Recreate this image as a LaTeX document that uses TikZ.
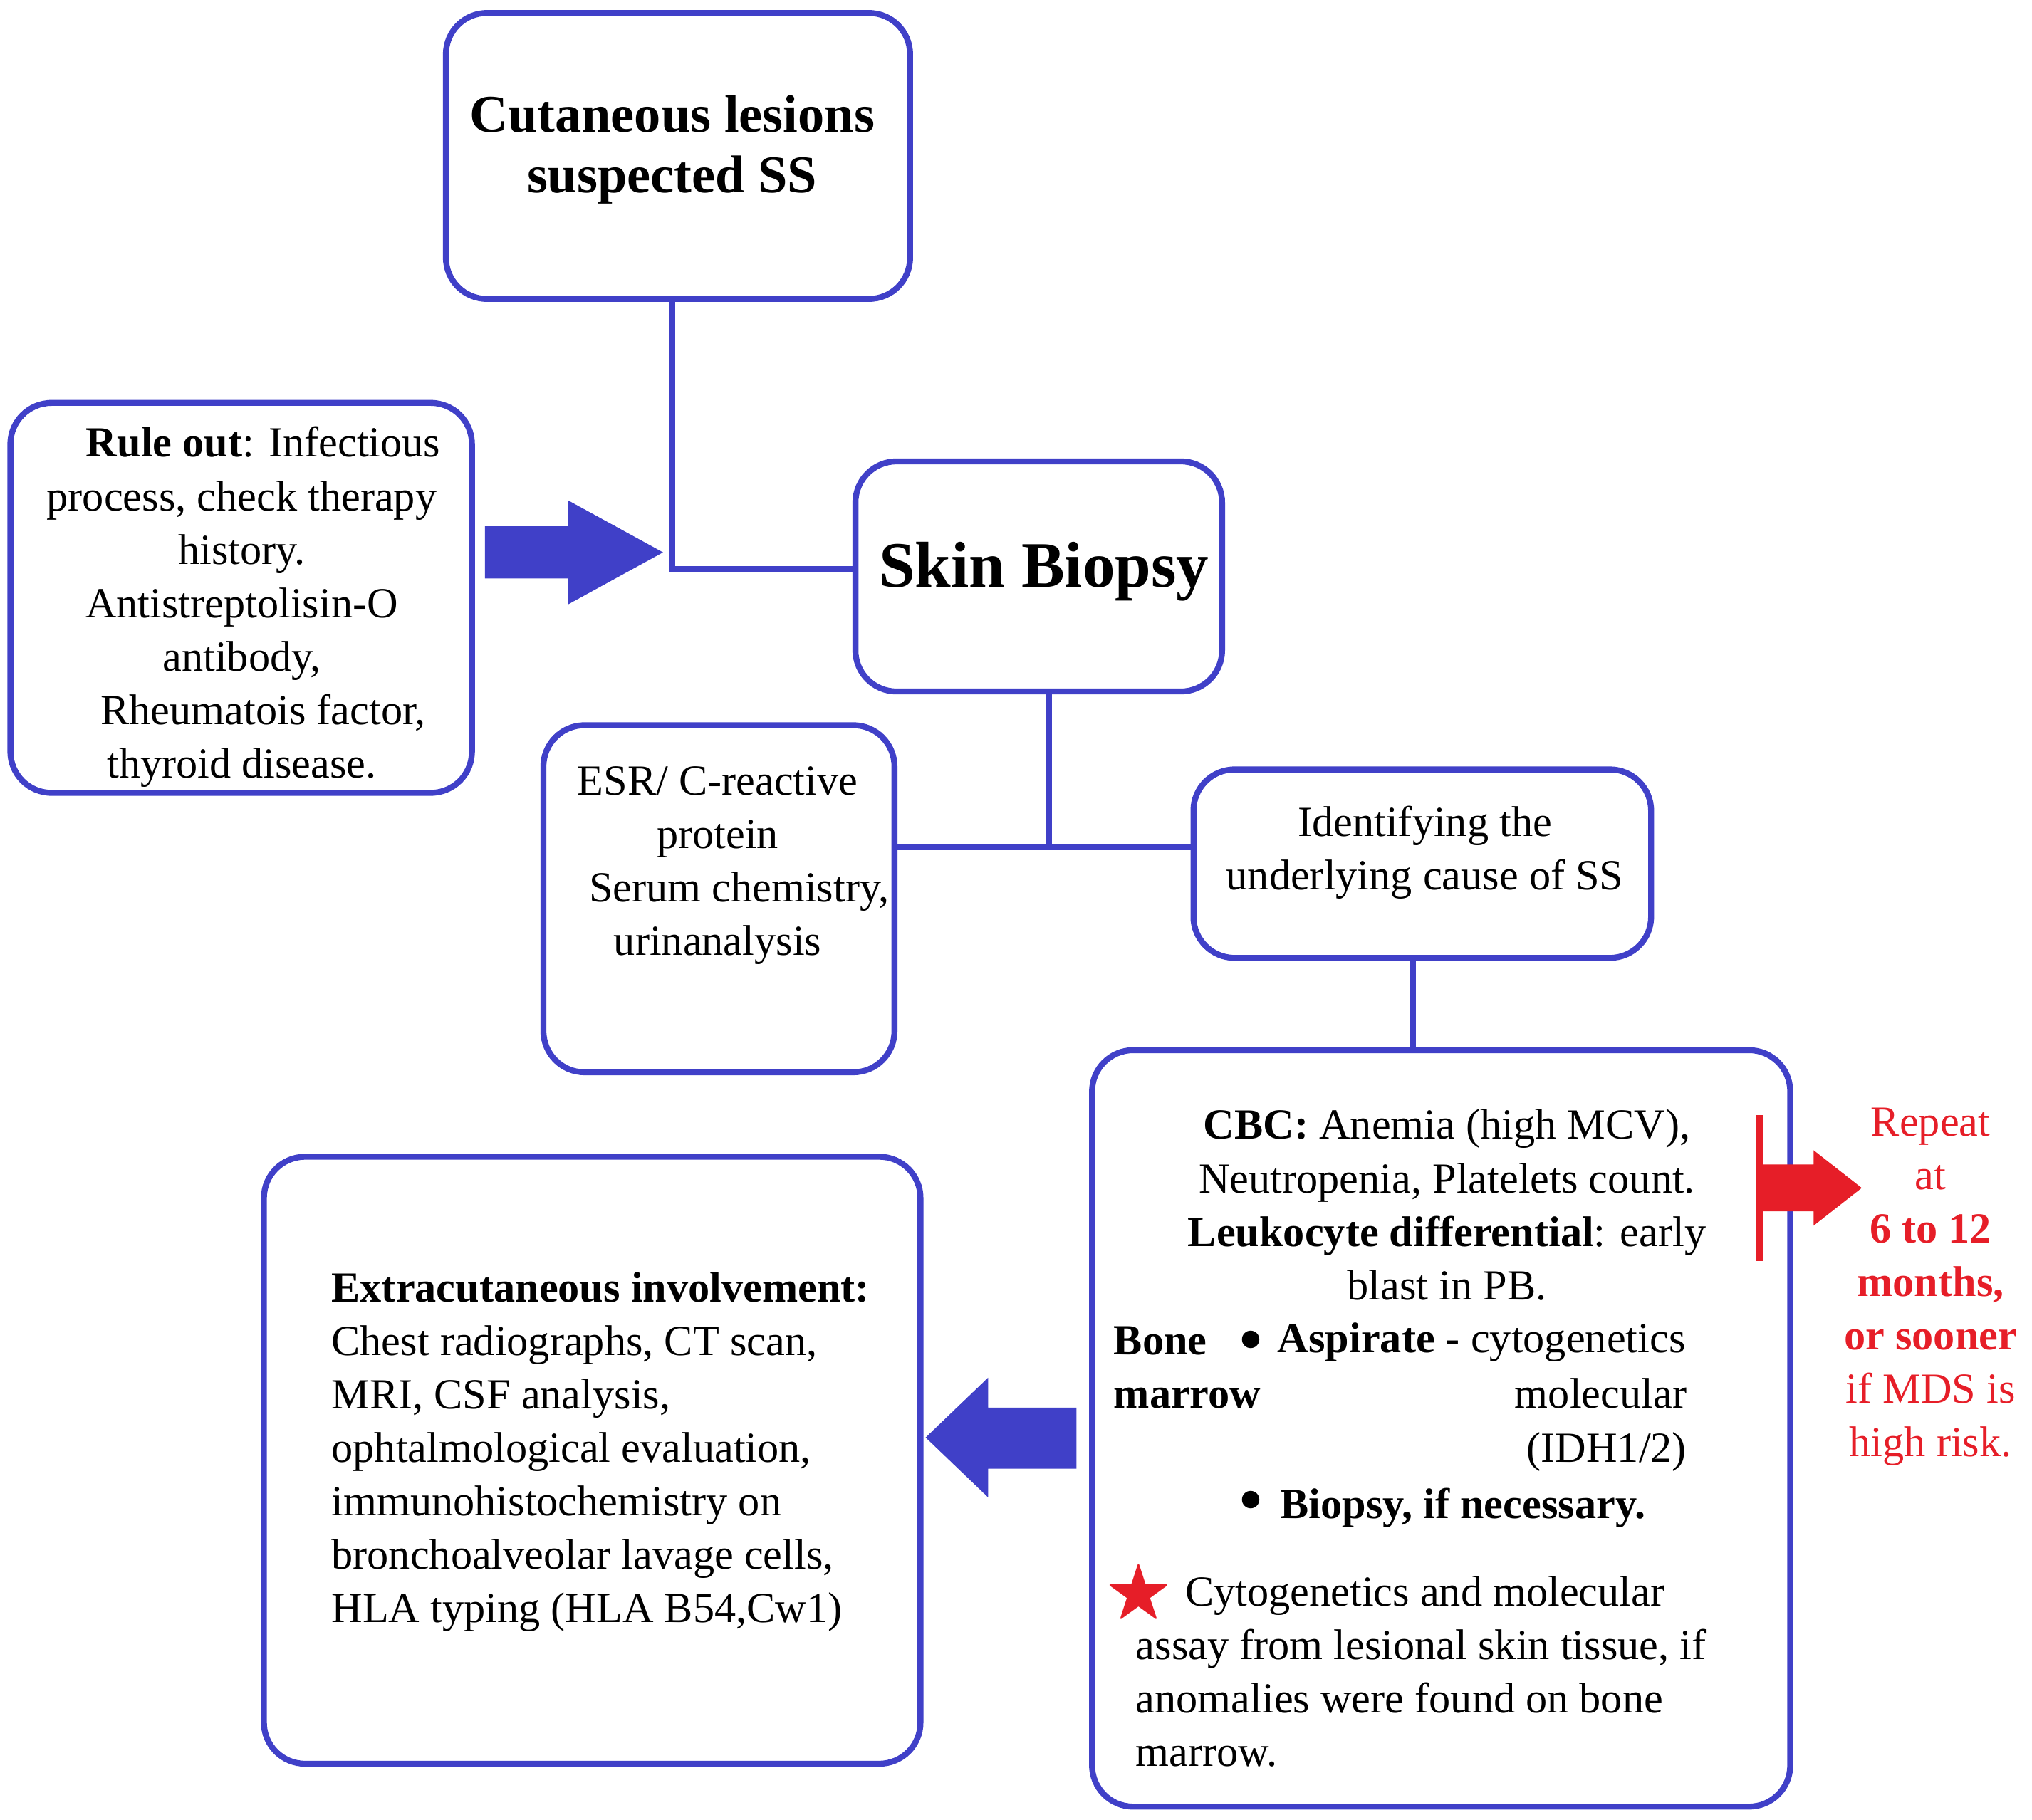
\documentclass[tikz,border=0pt]{standalone}
\usepackage{amssymb}
\usepackage{fontspec}
\setmainfont{Liberation Serif}
\usetikzlibrary{positioning}
\definecolor{boxblue}{RGB}{64,64,200}
\definecolor{repred}{RGB}{230,30,40}
\tikzset{
  box/.style={draw=boxblue, line width=1.3pt, rounded corners=9pt},
  link/.style={draw=boxblue, line width=1.3pt},
  txt/.style={align=center, font=\fontsize{9.4}{11.7}\selectfont, inner sep=0pt},
  bigarrow/.style={fill=boxblue, draw=none},
}
\begin{document}
\begin{tikzpicture}[x=0.1mm,y=-0.1mm]
  \useasboundingbox (0,0) rectangle (1563,1400);
  % boxes
  \draw[box] (343,10) rectangle (700,230);
  \draw[box] (8,310) rectangle (363,610);
  \draw[box] (658,355) rectangle (940,532);
  \draw[box] (418,558) rectangle (688,825);
  \draw[box] (918,592) rectangle (1270,737);
  \draw[box] (840,808) rectangle (1377,1390);
  \draw[box] (203,890) rectangle (708,1357);
  % texts
  \node[txt, font=\fontsize{11.6}{13.2}\selectfont\bfseries] (lesion) at (517,115) {Cutaneous lesions\\suspected SS};
  \node[txt] (ruleout) at (186,467) {\hspace*{1em}\textbf{Rule out}: Infectious\\process, check therapy\\history.\\Antistreptolisin-O\\antibody,\\\hspace*{1em}Rheumatois factor,\\thyroid disease.};
  \node[txt, font=\fontsize{14.2}{17}\selectfont\bfseries] (biopsy) at (803,440) {Skin Biopsy};
  \node[txt] (esr) at (552,666) {ESR/ C-reactive\\protein\\\hspace*{1em}Serum chemistry,\\urinanalysis};
  \node[txt] (cause) at (1096,656) {Identifying the\\underlying cause of SS};
  \node[txt, align=left] (extra) at (462,1117) {\textbf{Extracutaneous involvement:}\\Chest radiographs, CT scan,\\MRI, CSF analysis,\\ophtalmological evaluation,\\immunohistochemistry on\\bronchoalveolar lavage cells,\\HLA typing (HLA B54,Cw1)};
  \node[txt] (cbc) at (1113,927) {\textbf{CBC:} Anemia (high MCV),\\Neutropenia, Platelets count.\\\textbf{Leukocyte differential}: early\\blast in PB.};
  \node[txt, align=left, anchor=north west] (bone) at (856,1020) {\textbf{Bone}\\\textbf{marrow}};
  \node[txt, font=\fontsize{16}{16}\selectfont] (dot1) at (962,1037) {\textbullet};
  \node[txt, anchor=west] (aspirate) at (982,1033) {\textbf{Aspirate} - cytogenetics};
  \node[txt, align=right, anchor=north east] (molec) at (1298,1060) {molecular\\(IDH1/2)};
  \node[txt, font=\fontsize{16}{16}\selectfont] (dot2) at (962,1160) {\textbullet};
  \node[txt, anchor=west] (bmbiop) at (984,1160) {\textbf{Biopsy, if necessary.}};
  \node[txt, text=repred, font=\fontsize{15}{16}\selectfont] (star) at (876,1227) {$\bigstar$};
  \node[txt, align=left, anchor=north west] (cyto) at (873,1212) {\hspace*{3.8mm}Cytogenetics and molecular\\assay from lesional skin tissue, if\\anomalies were found on bone\\marrow.};
  \node[txt, text=repred] (repeat) at (1485,990) {Repeat\\at\\\textbf{6 to 12}\\\textbf{months,}\\\textbf{or sooner}\\if MDS is\\high risk.};
  % connectors
  \coordinate (lbend) at (517,438);
  \coordinate (bwest) at (658,438);
  \coordinate (mid) at (807,652);
  \draw[link] (517,230) -- (lbend) -- (bwest);
  \draw[link] (807,532) -- (mid);
  \draw[link] (688,652) -- (918,652);
  \draw[link] (1087,737) -- (1087,808);
  % block arrows
  \fill[bigarrow] (373,405) -- (437,405) -- (437,385) -- (510,425) -- (437,465) -- (437,445) -- (373,445) -- cycle;
  \fill[bigarrow] (828,1083) -- (760,1083) -- (760,1060) -- (712,1106) -- (760,1152) -- (760,1130) -- (828,1130) -- cycle;
  \draw[repred, line width=1.6pt] (1353,858) -- (1353,970);
  \fill[repred] (1353,896) -- (1395,896) -- (1395,885) -- (1432,914) -- (1395,943) -- (1395,932) -- (1353,932) -- cycle;
\end{tikzpicture}
\end{document}
